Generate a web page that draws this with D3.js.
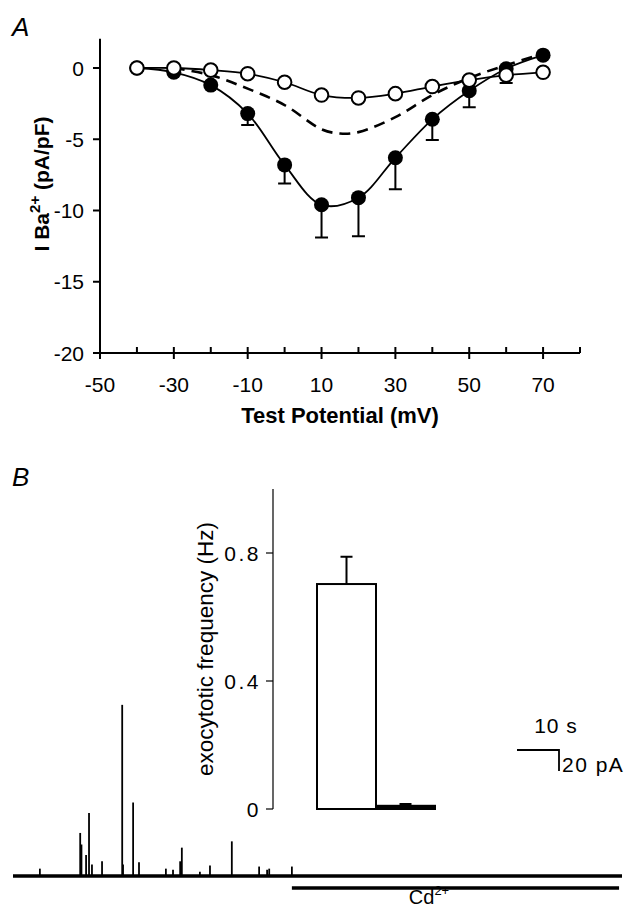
<!DOCTYPE html>
<html>
<head>
<meta charset="utf-8">
<script src="https://cdn.jsdelivr.net/npm/d3@7"></script>
<style>
  body { margin: 0; background: #fff; }
  svg { display: block; font-family: "Liberation Sans", Arial, sans-serif; }
</style>
</head>
<body>
<svg id="fig" width="627" height="912"></svg>
<script>
// Panel A: I-V relation
var voltages = [-40, -30, -20, -10, 0, 10, 20, 30, 40, 50, 60, 70];
var controlI = [0, -0.3, -1.2, -3.2, -6.8, -9.6, -9.1, -6.3, -3.6, -1.6, -0.05, 0.9];
var controlSem = [0, 0, 0, 0.8, 1.3, 2.3, 2.7, 2.2, 1.45, 1.15, 1.0, 0];
var cdI = [0, 0, -0.15, -0.4, -1.0, -1.9, -2.1, -1.8, -1.3, -0.85, -0.5, -0.3];
var fitV = [-30, -20, -10, 0, 10, 15, 20, 30, 40, 50, 60, 70];
var fitI = [0, -0.5, -1.45, -2.6, -4.3, -4.6, -4.5, -3.45, -1.9, -0.7, 0.2, 1.0];
var xTicksA = [-50, -30, -10, 10, 30, 50, 70];
var xMinorA = [-40, -20, 0, 20, 40, 60, 80];
var yTicksA = [0, -5, -10, -15, -20];

// Panel B: inset bars
var barNames = ["control", "Cd"];
var barValues = [0.703, 0.01];
var barSem = [0.085, 0.006];
var yTicksB = [0, 0.4, 0.8];

// Panel B: amperometric trace spikes (time s, amplitude pA)
var spikeT = [6.4, 16.0, 16.3, 17.4, 18.1, 18.8, 21.2, 26.0, 26.2, 28.6, 30.0, 36.4, 38.1, 39.8, 40.2, 44.5, 46.9, 52.1, 58.6, 60.5, 61.0, 66.4];
var spikeA = [7, 41, 30, 20, 60, 11, 14, 163, 11, 70, 13, 7, 6, 14, 27, 4, 10, 33, 9, 6, 7, 9];
var traceDuration = 145;
var cdStart = 66.4, cdEnd = 144.3;

var svg = d3.select("#fig");

// ---------- Panel A ----------
var x = d3.scaleLinear().domain([-50, 80]).range([100, 580]);
var y = d3.scaleLinear().domain([0, -20]).range([68, 353]);

svg.append("text").attr("x", 12).attr("y", 36)
  .attr("font-size", 26).attr("font-style", "italic").text("A");

var ga = svg.append("g");

// y axis
ga.append("line").attr("x1", x(-50)).attr("x2", x(-50))
  .attr("y1", y(2.05)).attr("y2", y(-20))
  .attr("stroke", "#000").attr("stroke-width", 2);
ga.selectAll(".ytick").data(yTicksA).enter().append("line")
  .attr("x1", x(-50) - 7).attr("x2", x(-50))
  .attr("y1", function(d) { return y(d); }).attr("y2", function(d) { return y(d); })
  .attr("stroke", "#000").attr("stroke-width", 2);
ga.selectAll(".ylab").data(yTicksA).enter().append("text")
  .attr("x", x(-50) - 16).attr("y", function(d) { return y(d) + 7.5; })
  .attr("text-anchor", "end").attr("font-size", 21)
  .text(function(d) { return d; });

// x axis
ga.append("line").attr("x1", x(-50)).attr("x2", x(80))
  .attr("y1", y(-20)).attr("y2", y(-20))
  .attr("stroke", "#000").attr("stroke-width", 2);
ga.selectAll(".xtick").data(xTicksA).enter().append("line")
  .attr("x1", function(d) { return x(d); }).attr("x2", function(d) { return x(d); })
  .attr("y1", y(-20) - 6).attr("y2", y(-20) + 6)
  .attr("stroke", "#000").attr("stroke-width", 2);
ga.selectAll(".xminor").data(xMinorA).enter().append("line")
  .attr("x1", function(d) { return x(d); }).attr("x2", function(d) { return x(d); })
  .attr("y1", y(-20) - 6).attr("y2", y(-20))
  .attr("stroke", "#000").attr("stroke-width", 2);
ga.selectAll(".xlab").data(xTicksA).enter().append("text")
  .attr("x", function(d) { return x(d); }).attr("y", 392)
  .attr("text-anchor", "middle").attr("font-size", 21)
  .text(function(d) { return d; });

ga.append("text").attr("x", 340).attr("y", 423)
  .attr("text-anchor", "middle").attr("font-size", 22).attr("font-weight", "bold")
  .text("Test Potential (mV)");

var yl = ga.append("text")
  .attr("transform", "translate(49,184) rotate(-90)")
  .attr("text-anchor", "middle").attr("font-size", 21).attr("font-weight", "bold");
yl.append("tspan").text("I Ba");
yl.append("tspan").attr("dy", -9).attr("font-size", 15).text("2+");
yl.append("tspan").attr("dy", 9).text(" (pA/pF)");

var line = d3.line().curve(d3.curveCatmullRom)
  .x(function(d) { return x(d[0]); })
  .y(function(d) { return y(d[1]); });

var ctrl = d3.zip(voltages, controlI);
var cd = d3.zip(voltages, cdI);
var fit = d3.zip(fitV, fitI);

ga.append("path").datum(fit).attr("d", line)
  .attr("fill", "none").attr("stroke", "#000").attr("stroke-width", 2.6)
  .attr("stroke-dasharray", "11,7");

// error bars (downward)
var eb = voltages.map(function(v, i) { return [v, controlI[i], controlSem[i]]; })
  .filter(function(d) { return d[2] > 0; });
ga.selectAll(".eb").data(eb).enter().append("path")
  .attr("d", function(d) {
    var cx = x(d[0]), y0 = y(d[1]), y1 = y(d[1] - d[2]);
    return "M" + cx + "," + y0 + "V" + y1 + "M" + (cx - 6.5) + "," + y1 + "H" + (cx + 6.5);
  })
  .attr("fill", "none").attr("stroke", "#000").attr("stroke-width", 2);

ga.append("path").datum(ctrl).attr("d", line)
  .attr("fill", "none").attr("stroke", "#000").attr("stroke-width", 1.8);
ga.selectAll(".cf").data(ctrl).enter().append("circle")
  .attr("cx", function(d) { return x(d[0]); }).attr("cy", function(d) { return y(d[1]); })
  .attr("r", 7.5).attr("fill", "#000");

ga.append("path").datum(cd).attr("d", line)
  .attr("fill", "none").attr("stroke", "#000").attr("stroke-width", 1.8);
ga.selectAll(".co").data(cd).enter().append("circle")
  .attr("cx", function(d) { return x(d[0]); }).attr("cy", function(d) { return y(d[1]); })
  .attr("r", 6.8).attr("fill", "#fff").attr("stroke", "#000").attr("stroke-width", 2);

// ---------- Panel B ----------
svg.append("text").attr("x", 12).attr("y", 486)
  .attr("font-size", 26).attr("font-style", "italic").text("B");

var gb = svg.append("g");
var yb = d3.scaleLinear().domain([0, 1]).range([809, 489]);
var xb = d3.scaleBand().domain(barNames).range([317, 435]).padding(0);

gb.append("line").attr("x1", 273).attr("x2", 273)
  .attr("y1", yb(1)).attr("y2", yb(0))
  .attr("stroke", "#000").attr("stroke-width", 1.2);
gb.selectAll(".btick").data(yTicksB).enter().append("line")
  .attr("x1", 266).attr("x2", 273)
  .attr("y1", function(d) { return yb(d); }).attr("y2", function(d) { return yb(d); })
  .attr("stroke", "#000").attr("stroke-width", 1.2);
gb.selectAll(".blab").data(yTicksB).enter().append("text")
  .attr("x", 261).attr("y", function(d) { return yb(d) + 7.5; })
  .attr("text-anchor", "end").attr("font-size", 21).attr("letter-spacing", 2.5)
  .text(function(d) { return d; });
gb.append("text").attr("transform", "translate(213,649) rotate(-90)")
  .attr("text-anchor", "middle").attr("font-size", 22.5)
  .text("exocytotic frequency (Hz)");

// error bars
gb.selectAll(".berr").data(barNames).enter().append("path")
  .attr("d", function(d, i) {
    var cx = xb(d) + xb.bandwidth() / 2, y0 = yb(barValues[i]), y1 = yb(barValues[i] + barSem[i]);
    return "M" + cx + "," + y0 + "V" + y1 + "M" + (cx - 6) + "," + y1 + "H" + (cx + 6);
  })
  .attr("fill", "none").attr("stroke", "#000").attr("stroke-width", 2);
gb.selectAll(".bar").data(barNames).enter().append("rect")
  .attr("x", function(d) { return xb(d); })
  .attr("y", function(d, i) { return yb(barValues[i]); })
  .attr("width", xb.bandwidth())
  .attr("height", function(d, i) { return yb(0) - yb(barValues[i]); })
  .attr("fill", function(d, i) { return i === 0 ? "#fff" : "#000"; })
  .attr("stroke", "#000").attr("stroke-width", 2);

// trace
var xt = d3.scaleLinear().domain([0, traceDuration]).range([13, 622]);
var yt = d3.scaleLinear().domain([0, 100]).range([876, 771]);

gb.append("line").attr("x1", xt(0)).attr("x2", xt(traceDuration))
  .attr("y1", yt(0)).attr("y2", yt(0))
  .attr("stroke", "#000").attr("stroke-width", 3.5);
gb.selectAll(".spike").data(spikeT).enter().append("line")
  .attr("x1", function(d) { return xt(d); }).attr("x2", function(d) { return xt(d); })
  .attr("y1", yt(0)).attr("y2", function(d, i) { return yt(spikeA[i]); })
  .attr("stroke", "#000").attr("stroke-width", 1.8);

// Cd2+ application bar
gb.append("line").attr("x1", xt(cdStart)).attr("x2", xt(cdEnd))
  .attr("y1", yt(-11.5)).attr("y2", yt(-11.5))
  .attr("stroke", "#000").attr("stroke-width", 3.5);
var cdl = gb.append("text").attr("x", 429).attr("y", 904)
  .attr("text-anchor", "middle").attr("font-size", 20);
cdl.append("tspan").text("Cd");
cdl.append("tspan").attr("dy", -9).attr("font-size", 13).text("2+");

// scale bar: 10 s, 20 pA
gb.append("path")
  .attr("d", "M" + xt(120) + "," + yt(120) + "H" + xt(130) + "V" + yt(100))
  .attr("fill", "none").attr("stroke", "#000").attr("stroke-width", 1.8);
gb.append("text").attr("x", 556).attr("y", 733)
  .attr("text-anchor", "middle").attr("font-size", 21).attr("letter-spacing", 1).text("10 s");
gb.append("text").attr("x", 562).attr("y", 772)
  .attr("font-size", 21).attr("letter-spacing", 1.5).text("20 pA");
</script>
</body>
</html>
